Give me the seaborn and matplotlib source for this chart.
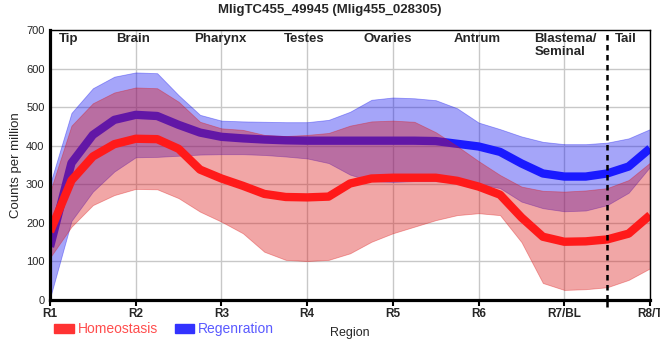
import numpy as np
import pandas as pd
import seaborn as sns
import matplotlib
matplotlib.use("Agg")
import matplotlib.pyplot as plt
from matplotlib.patches import Patch

# region ticks along the body axis
regions = ["R1", "R2", "R3", "R4", "R5", "R6", "R7/BL", "R8/T"]
region_names = ["Tip", "Brain", "Pharynx", "Testes", "Ovaries", "Antrum",
                "Blastema/\nSeminal", "Tail"]

# sampled every quarter region (R1 = 0 ... R8/T = 7)
x_pos = np.arange(0, 7.25, 0.25)

homeo_mean = [177, 310, 372, 404, 418, 417, 392, 338, 315, 296, 275, 267, 266, 268, 302,
              315, 317, 317, 317, 309, 294, 273, 214, 164, 151, 152, 157, 172, 220]
homeo_upper = [280, 452, 510, 538, 551, 549, 514, 462, 445, 441, 428, 425, 428, 433, 452,
               463, 465, 462, 435, 399, 360, 324, 294, 283, 281, 284, 290, 311, 356]
homeo_lower = [110, 190, 246, 272, 288, 287, 264, 229, 203, 173, 125, 104, 101, 104, 121,
               151, 173, 190, 207, 220, 225, 220, 150, 44, 26, 28, 33, 52, 82]

regen_mean = [138, 355, 428, 467, 480, 477, 454, 434, 423, 419, 416, 414, 413, 413, 413,
              413, 413, 413, 412, 405, 398, 384, 354, 328, 320, 320, 328, 346, 393]
regen_upper = [300, 485, 549, 579, 590, 588, 531, 480, 465, 463, 462, 461, 461, 467, 488,
               519, 525, 523, 518, 497, 460, 443, 424, 410, 404, 404, 408, 419, 443]
regen_lower = [5, 205, 281, 333, 370, 371, 374, 377, 378, 378, 376, 372, 367, 355, 325,
               308, 306, 308, 308, 305, 300, 290, 255, 238, 230, 232, 246, 278, 345]

df = pd.DataFrame({
    "pos": np.concatenate([x_pos, x_pos]),
    "cpm": homeo_mean + regen_mean,
    "condition": ["Homeostasis"] * len(x_pos) + ["Regenration"] * len(x_pos),
})

sns.set_theme(style="whitegrid")
plt.rcParams["font.family"] = ["Liberation Sans", "DejaVu Sans"]

fig = plt.figure(figsize=(6.6, 3.6), dpi=100)
ax = fig.add_axes([0.0758, 0.1667, 0.9091, 0.75])
ax.set_facecolor("white")

# draw order: blue band, blue line, red band, red line
ax.fill_between(x_pos, regen_lower, regen_upper, color="#1414f0", alpha=0.38, lw=0.6,
                joinstyle="round", zorder=2)
sns.lineplot(data=df[df.condition == "Regenration"], x="pos", y="cpm", color="#1a1aff",
             linewidth=6, ax=ax, legend=False, zorder=3,
             solid_joinstyle="round", solid_capstyle="butt")
ax.fill_between(x_pos, homeo_lower, homeo_upper, color="#dc1414", alpha=0.375, lw=0.6,
                joinstyle="round", zorder=4)
sns.lineplot(data=df[df.condition == "Homeostasis"], x="pos", y="cpm", color="#ff1a1a",
             linewidth=6, ax=ax, legend=False, zorder=5,
             solid_joinstyle="round", solid_capstyle="butt")

ax.axvline(6.5, color="black", lw=1.8, ls=(0, (2.2, 1.8)), zorder=6, clip_on=False)

ax.set_xlim(0, 7)
ax.set_ylim(0, 700)
ax.set_xticks(range(len(regions)))
ax.set_xticklabels(regions, fontweight="bold", fontsize=8.5)
ax.set_yticks(range(0, 701, 100))
ax.tick_params(axis="y", labelsize=8, length=3, width=1, color="black", pad=1)
ax.tick_params(axis="x", length=4, width=1.5, color="black", pad=2, bottom=True)
ax.set_xticks([6.5], minor=True)
ax.tick_params(axis="x", which="minor", length=5, width=1.8, color="black", bottom=True)
ax.grid(True, color="#c8c8c8", lw=1)
ax.set_axisbelow(True)

for side in ["left", "bottom"]:
    ax.spines[side].set_linewidth(2.3)
    ax.spines[side].set_color("black")
for side in ["top", "right"]:
    ax.spines[side].set_linewidth(1.0)
    ax.spines[side].set_color("black")
for side in ax.spines:
    ax.spines[side].set_zorder(7)

ax.set_xlabel("Region", fontsize=9, labelpad=5)
ax.set_ylabel("Counts per million", fontsize=9.5, labelpad=3)

name_x = [0.22, 0.97, 1.99, 2.96, 3.94, 4.98, 5.65, 6.72]
for nx, name in zip(name_x, region_names):
    ax.text(nx, 692, name, ha="left" if "\n" in name else "center", va="top",
            fontsize=9.5, fontweight="bold", linespacing=1.05, zorder=8)

fig.suptitle("MligTC455_49945 (Mlig455_028305)", x=0.5, y=0.99, va="top",
             fontsize=9.5, fontweight="bold")

handles = [Patch(color="#ff3333", label="Homeostasis"),
           Patch(color="#3333ff", label="Regenration")]
leg = fig.legend(handles=handles, loc="center left", bbox_to_anchor=(0.082, 0.085),
                 ncol=2, frameon=False, fontsize=10, handlelength=1.4, handleheight=0.55,
                 handletextpad=0.3, columnspacing=1.2, borderpad=0, borderaxespad=0)
for txt, c in zip(leg.get_texts(), ["#ff4d4d", "#5a5aff"]):
    txt.set_color(c)

fig.savefig("out.png", dpi=100)
